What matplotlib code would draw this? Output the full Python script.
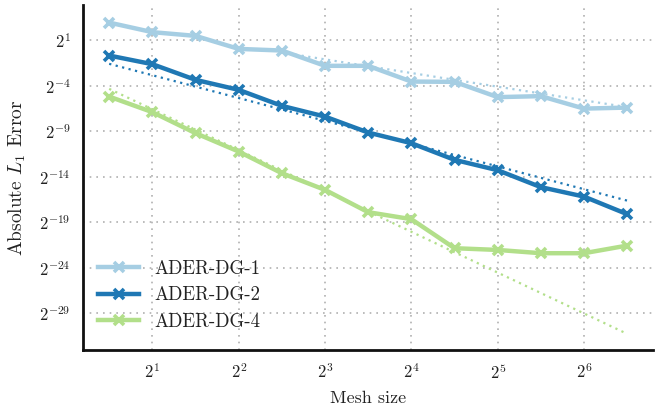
import numpy as np
import matplotlib
matplotlib.use("Agg")
import matplotlib.pyplot as plt
from matplotlib.ticker import FixedLocator, FixedFormatter, NullLocator

plt.rcParams['font.family'] = ['cmr10', 'DejaVu Serif']
plt.rcParams['mathtext.fontset'] = 'cm'
plt.rcParams['axes.formatter.use_mathtext'] = True
plt.rcParams['axes.unicode_minus'] = False

# Mesh sizes (half-octave steps)
mesh_size = [1.414, 2.0, 2.828, 4.0, 5.657, 8.0, 11.31, 16.0, 22.63, 32.0, 45.25, 64.0, 90.51]

# log2 of absolute L1 error
log2_err_dg1 = [2.93, 1.88, 1.47, 0.04, -0.14, -1.82, -1.82, -3.55, -3.58, -5.26, -5.15, -6.52, -6.41]
log2_err_dg2 = [-0.69, -1.64, -3.36, -4.46, -6.22, -7.40, -9.15, -10.32, -12.15, -13.29, -15.15, -16.19, -18.12]
log2_err_dg4 = [-5.20, -6.91, -9.22, -11.24, -13.62, -15.45, -17.90, -18.67, -21.86, -22.05, -22.41, -22.41, -21.57]

# reference (dotted) slope lines: endpoints (mesh size, log2 error)
ref_dg1_x = [5.657, 90.51]
ref_dg1_y = [-0.36, -6.36]
ref_dg2_x = [1.414, 90.51]
ref_dg2_y = [-1.60, -16.63]
ref_dg4_x = [1.414, 90.51]
ref_dg4_y = [-4.35, -31.27]

labels = ['ADER-DG-1', 'ADER-DG-2', 'ADER-DG-4']
colors = ['#a6cee3', '#1f78b4', '#b2df8a']

xtick_exp = [1, 2, 3, 4, 5, 6]
ytick_exp = [1, -4, -9, -14, -19, -24, -29]

fig = plt.figure(figsize=(6.59, 4.04), dpi=100)
ax = fig.add_axes([0.126, 0.134, 0.865, 0.854])

series = [log2_err_dg1, log2_err_dg2, log2_err_dg4]
refs = [(ref_dg1_x, ref_dg1_y), (ref_dg2_x, ref_dg2_y), (ref_dg4_x, ref_dg4_y)]
for s, (rx, ry), lab, c in zip(series, refs, labels, colors):
    ax.plot(rx, 2.0 ** np.array(ry), linestyle=(0, (1, 2)), color=c, lw=1.6, zorder=2)
    ax.plot(mesh_size, 2.0 ** np.array(s), color=c, lw=3.2, marker='x', ms=6.5, mew=2.6,
            label=lab, zorder=3)

ax.set_xscale('log', base=2)
ax.set_yscale('log', base=2)
ax.set_xlim(2 ** 0.197, 2 ** 6.80)
ax.set_ylim(2 ** -33.03, 2 ** 4.88)

ax.xaxis.set_major_locator(FixedLocator([2.0 ** e for e in xtick_exp]))
ax.xaxis.set_major_formatter(FixedFormatter([r'$2^{%d}$' % e for e in xtick_exp]))
ax.xaxis.set_minor_locator(NullLocator())
ax.yaxis.set_major_locator(FixedLocator([2.0 ** e for e in ytick_exp]))
ax.yaxis.set_major_formatter(FixedFormatter([r'$2^{%d}$' % e for e in ytick_exp]))
ax.yaxis.set_minor_locator(NullLocator())

ax.tick_params(axis='both', length=0, labelsize=12, pad=9, labelcolor='#222222')
ax.grid(True, which='major', linestyle=(0, (1, 3)), color='#b0b0b0', lw=1.2)
ax.set_axisbelow(True)

for sp in ['top', 'right']:
    ax.spines[sp].set_visible(False)
for sp in ['left', 'bottom']:
    ax.spines[sp].set_linewidth(2)
    ax.spines[sp].set_color('#111111')

ax.set_xlabel('Mesh size', fontsize=13, labelpad=6, color='#222222')
ax.set_ylabel(r'Absolute $L_1$ Error', fontsize=14, labelpad=8, color='#222222')

leg = ax.legend(loc='lower left', frameon=False, fontsize=13.5, handlelength=2.2,
                borderaxespad=0.4, labelspacing=0.45, bbox_to_anchor=(0.0, 0.012))
for t in leg.get_texts():
    t.set_color('#222222')

fig.savefig('out.png', dpi=100)
